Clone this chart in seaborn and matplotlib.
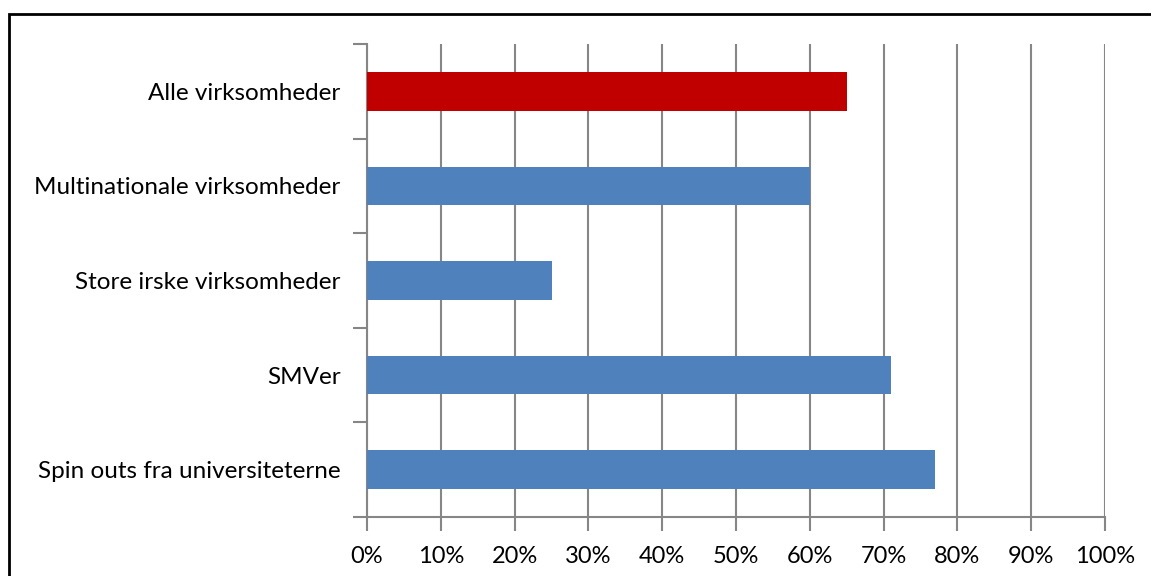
import matplotlib
matplotlib.use("Agg")
import matplotlib.pyplot as plt
from matplotlib.patches import Rectangle
from matplotlib.ticker import FuncFormatter, MultipleLocator
import seaborn as sns
import pandas as pd

# data
categories = [
    "Alle virksomheder",
    "Multinationale virksomheder",
    "Store irske virksomheder",
    "SMVer",
    "Spin outs fra universiteterne",
]
shares = [65, 60, 25, 71, 77]
bar_colors = ["#C00000", "#4F81BD", "#4F81BD", "#4F81BD", "#4F81BD"]

df = pd.DataFrame({"category": categories, "share": shares})

sns.set_theme(style="white")
plt.rcParams["font.family"] = ["Lato", "DejaVu Sans"]

fig = plt.figure(figsize=(11.51, 5.76), dpi=100)
ax = fig.add_axes([367 / 1151, 1 - 517 / 576, (1105 - 367) / 1151, (517 - 44) / 576])

sns.barplot(data=df, x="share", y="category", hue="category",
            palette=bar_colors, legend=False, width=0.41, saturation=1,
            linewidth=0, ax=ax, zorder=3)

grid_col = "#868686"
ax.set_xlim(0, 100)
ax.set_ylim(len(categories) - 0.5, -0.5)
ax.xaxis.set_major_locator(MultipleLocator(10))
ax.xaxis.set_major_formatter(FuncFormatter(lambda v, _: f"{v:.0f}%"))
ax.set_yticks([i - 0.5 for i in range(len(categories) + 1)], minor=False)
ax.set_yticklabels([])
ax.set_yticks(range(len(categories)), minor=True)
ax.set_yticklabels(categories, minor=True)
ax.tick_params(axis="y", which="major", length=10, width=1.5, color=grid_col, left=True)
ax.tick_params(axis="y", which="minor", length=0, pad=19, labelsize=17.5, labelcolor="black")
ax.tick_params(axis="x", length=10, width=1.5, color=grid_col, bottom=True,
               pad=11, labelsize=17, labelcolor="black")
ax.xaxis.grid(True, color=grid_col, linewidth=1.5, zorder=0)
ax.yaxis.grid(False)
ax.set_axisbelow(True)
ax.set_xlabel("")
ax.set_ylabel("")
for side in ["top", "right"]:
    ax.spines[side].set_visible(False)
for side in ["left", "bottom"]:
    ax.spines[side].set_color(grid_col)
    ax.spines[side].set_linewidth(1.5)

# outer chart frame
fig.patches.append(Rectangle((9 / 1151, -0.1), 1.2, 1 - 14 / 576 + 0.1,
                             transform=fig.transFigure, fill=False,
                             edgecolor="black", linewidth=2))

fig.savefig("out.png", dpi=100)
